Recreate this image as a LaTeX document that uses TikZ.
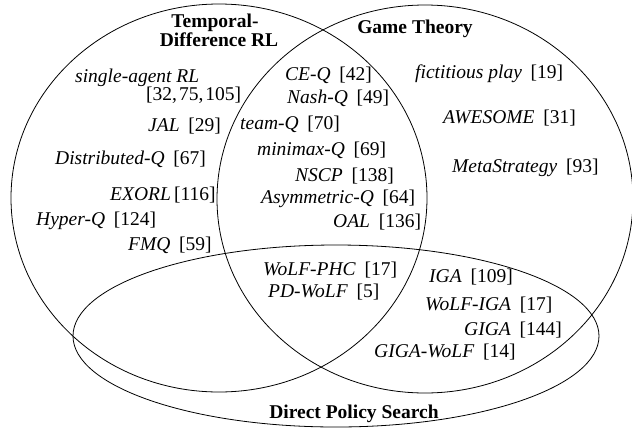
\documentclass[tikz,border=0pt]{standalone}
\usepackage{fontspec}
\setmainfont{Liberation Serif}
\usetikzlibrary{positioning}

\newcommand{\algref}[2]{\textit{#1}\hspace{0.45em}[#2]}

\begin{document}
\begin{tikzpicture}[
    x=1pt, y=-1pt,
    setline/.style={line width=0.8pt},
    item/.style={anchor=base west, inner sep=0pt,
                 font=\fontsize{19.5}{22}\selectfont},
    heading/.style={anchor=base, inner sep=0pt,
                    font=\fontsize{19.5}{22}\selectfont\bfseries}
]
    \useasboundingbox (0,0) rectangle (632,429);

    % Sets
    \draw[setline] (219,198) ellipse [x radius=208, y radius=194];
    \draw[setline] (425,199) ellipse [x radius=208, y radius=194];
    \draw[setline] (336,336) ellipse [x radius=263, y radius=91];

    % Set titles
    \node[heading] (tdtop) at (215,27) {Temporal-};
    \node[heading] (tdbot) at (219,46) {Difference RL};
    \node[heading] (gt) at (415,33) {Game Theory};
    \node[heading] (dps) at (354,418) {Direct Policy Search};

    % Temporal-Difference RL only
    \node[item] (single) at (75,82) {\textit{single-agent RL}};
    \node[item] (singleref) at (146,100) {[32,\kern2pt75,\kern2pt105]};
    \node[item] (jal) at (148,131) {\algref{JAL}{29}};
    \node[item] (distq) at (55,164) {\algref{Distributed-Q}{67}};
    \node[item] (exorl) at (110,200) {\textit{EXORL}\,[116]};
    \node[item] (hyperq) at (36,225) {\algref{Hyper-Q}{124}};
    \node[item] (fmq) at (128,250) {\algref{FMQ}{59}};

    % Temporal-Difference RL and Game Theory
    \node[item] (ceq) at (285,80) {\algref{CE-Q}{42}};
    \node[item] (nashq) at (287,103) {\algref{Nash-Q}{49}};
    \node[item] (teamq) at (240,129) {\algref{team-Q}{70}};
    \node[item] (minimaxq) at (257,155) {\algref{minimax-Q}{69}};
    \node[item] (nscp) at (295,181) {\algref{NSCP}{138}};
    \node[item] (asymq) at (261,203) {\algref{Asymmetric-Q}{64}};
    \node[item] (oal) at (333,227) {\algref{OAL}{136}};

    % all three
    \node[item] (wolfphc) at (263,275) {\algref{WoLF-PHC}{17}};
    \node[item] (pdwolf) at (268,297) {\algref{PD-WoLF}{5}};

    % Game Theory only
    \node[item] (fict) at (415,78) {\algref{fictitious play}{19}};
    \node[item] (awesome) at (443,123) {\algref{AWESOME}{31}};
    \node[item] (meta) at (452,172) {\algref{MetaStrategy}{93}};

    % Game Theory and Direct Policy Search
    \node[item] (iga) at (429,282) {\algref{IGA}{109}};
    \node[item] (wolfiga) at (425,310) {\algref{WoLF-IGA}{17}};
    \node[item] (giga) at (464,335) {\algref{GIGA}{144}};
    \node[item] (gigawolf) at (374,357) {\algref{GIGA-WoLF}{14}};

\end{tikzpicture}
\end{document}
